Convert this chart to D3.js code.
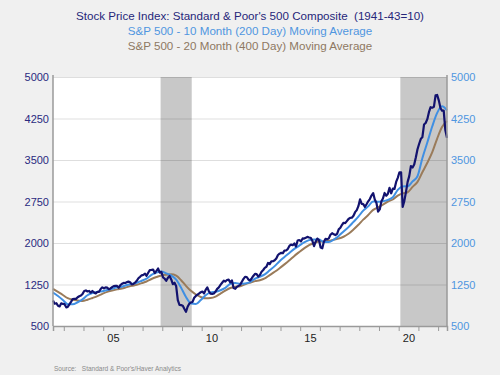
<!DOCTYPE html>
<html>
<head>
<meta charset="utf-8">
<script src="https://cdn.jsdelivr.net/npm/d3@7"></script>
<style>
  body { margin: 0; background: #f0f0f0; }
  svg { display: block; font-family: "Liberation Sans", Arial, sans-serif; }
  .title { white-space: pre; }
</style>
</head>
<body>
<svg id="chart"></svg>
<script>
// Monthly S&P 500 averages, Jun 2002 - Jun 2022
const spxStart = new Date(2002, 5, 15);
const spx = [
  960, 903, 912, 867, 854, 910, 899,
  895, 837, 846, 890, 936, 988, 992, 990, 1019, 1038, 1050, 1080,
  1132, 1143, 1124, 1133, 1103, 1133, 1106, 1088, 1117, 1118, 1169, 1199,
  1181, 1199, 1195, 1165, 1178, 1202, 1222, 1224, 1225, 1192, 1238, 1262,
  1278, 1277, 1293, 1302, 1290, 1253, 1260, 1287, 1317, 1363, 1389, 1416,
  1424, 1445, 1407, 1463, 1511, 1515, 1520, 1455, 1497, 1539, 1463, 1479,
  1378, 1354, 1317, 1371, 1403, 1341, 1257, 1281, 1217, 968, 883, 877,
  866, 806, 757, 848, 902, 926, 935, 1010, 1044, 1068, 1088, 1110,
  1123, 1089, 1152, 1197, 1125, 1083, 1079, 1087, 1122, 1171, 1198, 1242,
  1282, 1321, 1304, 1332, 1338, 1287, 1325, 1185, 1173, 1207, 1226, 1243,
  1300, 1352, 1389, 1386, 1341, 1323, 1359, 1404, 1443, 1437, 1394, 1422,
  1480, 1512, 1551, 1570, 1639, 1619, 1668, 1670, 1687, 1720, 1783, 1807,
  1822, 1817, 1863, 1864, 1890, 1947, 1973, 1961, 1993, 1937, 2045, 2054,
  2028, 2082, 2080, 2094, 2111, 2099, 2094, 2039, 1944, 2024, 2080, 2054,
  1918, 1904, 2022, 2075, 2065, 2083, 2149, 2177, 2157, 2143, 2165, 2247,
  2275, 2329, 2366, 2359, 2395, 2434, 2454, 2456, 2493, 2557, 2594, 2665,
  2790, 2705, 2702, 2654, 2701, 2754, 2794, 2857, 2902, 2785, 2723, 2567,
  2607, 2754, 2804, 2904, 2855, 2890, 2997, 2898, 2982, 2977, 3104, 3177,
  3278, 3278, 2653, 2762, 2920, 3105, 3208, 3391, 3365, 3419, 3549, 3695,
  3794, 3883, 3910, 4141, 4168, 4238, 4364, 4454, 4445, 4460, 4667, 4675,
  4573, 4435, 4391, 4392, 4040, 3900
];

// Quarterly readings of the moving averages, Jun 2002 - Jun 2022
const maStart = new Date(2002, 5, 15);
const ma10 = [
  1105, 1042, 970, 894, 892, 929, 983, 1056, 1096, 1116, 1129, 1151, 1172,
  1199, 1210, 1241, 1261, 1282, 1317, 1356, 1425, 1465, 1485, 1452, 1414,
  1340, 1192, 1025, 905, 897, 969, 1055, 1108, 1117, 1146, 1189, 1260,
  1279, 1262, 1269, 1294, 1354, 1390, 1433, 1507, 1582, 1671, 1746, 1820,
  1894, 1953, 2010, 2052, 2063, 2062, 2018, 2017, 2060, 2128, 2209, 2287,
  2381, 2477, 2585, 2662, 2752, 2744, 2755, 2779, 2826, 2959, 3023, 3024,
  3114, 3207, 3532, 3816, 4109, 4352, 4470, 4398
];
const ma20 = [
  1170, 1115, 1060, 1003, 976, 962, 951, 975, 1007, 1041, 1081, 1117, 1141,
  1162, 1177, 1203, 1226, 1244, 1274, 1305, 1350, 1385, 1414, 1427, 1433,
  1409, 1328, 1226, 1135, 1069, 1025, 1000, 1004, 1031, 1086, 1140, 1187,
  1208, 1218, 1253, 1283, 1311, 1328, 1359, 1420, 1480, 1545, 1614, 1688,
  1767, 1837, 1903, 1961, 1998, 2026, 2028, 2038, 2061, 2080, 2113, 2166,
  2243, 2329, 2423, 2506, 2598, 2646, 2695, 2750, 2786, 2855, 2897, 2917,
  3014, 3104, 3278, 3450, 3642, 3888, 4095, 4204
];

// Recessions (shaded)
const recessions = [
  [new Date(2007, 11, 1), new Date(2009, 5, 30)],
  [new Date(2020, 1, 1), new Date(2022, 5, 15)]
];

const yTicks = [500, 1250, 2000, 2750, 3500, 4250, 5000];
const xLabelYears = [2005, 2010, 2015, 2020];

const titles = [
  { text: "Stock Price Index: Standard & Poor's 500 Composite  (1941-43=10)", color: "#26267a" },
  { text: "S&P 500 - 10 Month (200 Day) Moving Average", color: "#4f96e0" },
  { text: "S&P 500 - 20 Month (400 Day) Moving Average", color: "#8e7862" }
];

const W = 500, H = 375;
const margin = { top: 77, right: 53, bottom: 49, left: 53 };
const width = W - margin.left - margin.right;
const height = H - margin.top - margin.bottom;

const svg = d3.select("#chart").attr("width", W).attr("height", H);

// Titles
svg.selectAll("text.title")
  .data(titles)
  .enter().append("text")
  .attr("class", "title")
  .attr("x", 250)
  .attr("y", (d, i) => 20 + i * 15)
  .attr("text-anchor", "middle")
  .style("font-size", "11.6px")
  .style("fill", d => d.color)
  .text(d => d.text);

const g = svg.append("g").attr("transform", `translate(${margin.left},${margin.top})`);

const x = d3.scaleTime()
  .domain([new Date(2002, 5, 15), new Date(2022, 5, 15)])
  .range([0, width]);
const y = d3.scaleLinear().domain([500, 5000]).range([height, 0]);

// Plot background
g.append("rect").attr("width", width).attr("height", height).attr("fill", "#fff");

// Recession shading
g.selectAll("rect.rec")
  .data(recessions)
  .enter().append("rect")
  .attr("class", "rec")
  .attr("x", d => x(d[0]))
  .attr("width", d => Math.min(width, x(d[1])) - x(d[0]))
  .attr("y", 0)
  .attr("height", height)
  .attr("fill", "#c8c8c8");

// Gridlines
const grid = g.append("g")
  .call(d3.axisLeft(y).tickValues(yTicks).tickSize(-width).tickFormat(""));
grid.select(".domain").remove();
grid.selectAll("line").attr("stroke", "rgba(0,0,0,0.13)").attr("stroke-width", 1.2);

// Lines
const spxData = spx.map((v, i) => ({ date: d3.timeMonth.offset(spxStart, i), value: v }));
const ma10Data = ma10.map((v, i) => ({ date: d3.timeMonth.offset(maStart, i * 3), value: v }));
const ma20Data = ma20.map((v, i) => ({ date: d3.timeMonth.offset(maStart, i * 3), value: v }));

const line = d3.line()
  .x(d => x(d.date))
  .y(d => y(d.value));
const smooth = d3.line()
  .curve(d3.curveMonotoneX)
  .x(d => x(d.date))
  .y(d => y(d.value));

g.append("path").datum(ma20Data)
  .attr("fill", "none").attr("stroke", "#9a7b5a").attr("stroke-width", 2)
  .attr("d", smooth);
g.append("path").datum(ma10Data)
  .attr("fill", "none").attr("stroke", "#3f8fe3").attr("stroke-width", 2)
  .attr("d", smooth);
g.append("path").datum(spxData)
  .attr("fill", "none").attr("stroke", "#12126e").attr("stroke-width", 2.2)
  .attr("stroke-linejoin", "round")
  .attr("d", line);

// Frame: left and right axis lines
g.append("line").attr("x1", 0).attr("x2", 0).attr("y1", -2).attr("y2", height)
  .attr("stroke", "#9a9a9a").attr("stroke-width", 1.5);
g.append("line").attr("x1", width).attr("x2", width).attr("y1", -2).attr("y2", height)
  .attr("stroke", "#9a9a9a").attr("stroke-width", 1.5);

// Left axis labels
const yLeft = g.append("g")
  .call(d3.axisLeft(y).tickValues(yTicks).tickSize(0).tickPadding(4).tickFormat(d3.format("d")));
yLeft.select(".domain").remove();
yLeft.selectAll("text")
  .style("font-size", "11px").style("font-family", "Liberation Sans, Arial, sans-serif")
  .attr("fill", "#2a2a80");

// Right axis labels
const yRight = g.append("g")
  .attr("transform", `translate(${width},0)`)
  .call(d3.axisRight(y).tickValues(yTicks).tickSize(0).tickPadding(4).tickFormat(d3.format("d")));
yRight.select(".domain").remove();
yRight.selectAll("text")
  .style("font-size", "11px").style("font-family", "Liberation Sans, Arial, sans-serif")
  .attr("fill", "#4f96e0");

// Bottom axis: year ticks
const xTicks = g.append("g")
  .attr("transform", `translate(0,${height})`)
  .call(d3.axisBottom(x).ticks(d3.timeYear.every(1)).tickSize(5).tickFormat(""));
xTicks.select(".domain").attr("stroke", "#9a9a9a").attr("stroke-width", 1.5);
xTicks.selectAll(".tick line").attr("stroke", "#9a9a9a");

// Bottom axis: labels centred in the year
const xLab = g.append("g")
  .attr("transform", `translate(0,${height})`)
  .call(d3.axisBottom(x)
    .tickValues(xLabelYears.map(yr => new Date(yr, 6, 1)))
    .tickSize(0).tickPadding(8)
    .tickFormat(d3.timeFormat("%y")));
xLab.select(".domain").remove();
xLab.selectAll("text")
  .style("font-size", "11px").style("font-family", "Liberation Sans, Arial, sans-serif")
  .attr("fill", "#222");

// Source
svg.append("text")
  .attr("x", 54).attr("y", 371)
  .style("font-size", "6.5px")
  .style("fill", "#8a8a8a")
  .style("white-space", "pre")
  .text("Source:   Standard & Poor's/Haver Analytics");
</script>
</body>
</html>
